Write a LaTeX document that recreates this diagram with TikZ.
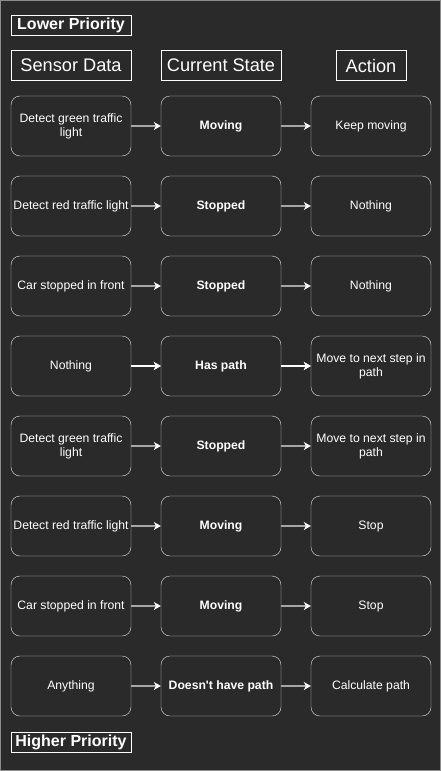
\documentclass[tikz,border=0pt]{standalone}
\usepackage{fontspec}
\setmainfont{Liberation Sans}
\usetikzlibrary{arrows.meta}

\definecolor{bgdark}{HTML}{2A2A2A}
\definecolor{framegray}{HTML}{8C8C8C}
\definecolor{linkgray}{HTML}{A6A6A6}
\definecolor{boxline}{HTML}{E6E6E6}

\begin{document}
\begin{tikzpicture}[x=1pt,y=-1pt,->,>={Stealth[length=7pt,width=8pt,inset=2pt,color=white]}]
    \tikzstyle{every node}=[text=white]
    \tikzstyle{rule box}=[draw=boxline,rounded corners=9pt,fill=bgdark,minimum width=120pt,minimum height=60pt,inner sep=2pt,align=center,font=\fontsize{12.2}{14}\selectfont]
    \tikzstyle{sensor}=[rule box]
    \tikzstyle{state}=[rule box,font=\fontsize{12.2}{14}\selectfont\bfseries]
    \tikzstyle{action}=[rule box]
    \tikzstyle{header}=[draw=white,fill=bgdark,minimum height=30pt,inner sep=3pt,font=\fontsize{18.2}{20}\selectfont]
    \tikzstyle{priority}=[draw=white,fill=bgdark,minimum width=120pt,minimum height=20pt,inner sep=1pt,font=\fontsize{16}{17}\selectfont\bfseries]
    \tikzstyle{link}=[draw=linkgray,line width=1.6pt]

    % Background and frame
    \draw[-,fill=bgdark,draw=framegray] (0.5,0.5) rectangle (440.5,770.5);
    \useasboundingbox (0,0) rectangle (441,771);

    % Column headers and priority labels
    \node[priority] (low) at (71,25.5) {Lower Priority};
    \node[header,minimum width=120pt] (hs) at (71,65.5) {Sensor Data};
    \node[header,minimum width=120pt] (hc) at (221,65.5) {Current State};
    \node[header,minimum width=70pt] (ha) at (371,65.5) {Action};

    % Draw the rule rows
    \foreach \i/\s/\c/\a in {
        1/{Detect green traffic\\light}/Moving/Keep moving,
        2/{Detect red traffic light}/Stopped/Nothing,
        3/{Car stopped in front}/Stopped/Nothing,
        4/Nothing/Has path/{Move to next step in\\path},
        5/{Detect green traffic\\light}/Stopped/{Move to next step in\\path},
        6/{Detect red traffic light}/Moving/Stop,
        7/{Car stopped in front}/Moving/Stop,
        8/Anything/Doesn\textquotesingle t have path/Calculate path}
    {
        \node[sensor] (S-\i) at (71,46+80*\i) {\s};
        \node[state] (C-\i) at (221,46+80*\i) {\c};
        \node[action] (A-\i) at (371,46+80*\i) {\a};
    }

    % Connect sensor data to state, and state to action
    \foreach \i in {1,...,8}
    {
        \path[link] (S-\i) edge (C-\i);
        \path[link] (C-\i) edge (A-\i);
    }
    \path[link,draw=white,line width=1.2pt] (S-4) edge (C-4) (C-4) edge (A-4);

    \node[priority] (high) at (71,742) {Higher Priority};
\end{tikzpicture}
\end{document}
